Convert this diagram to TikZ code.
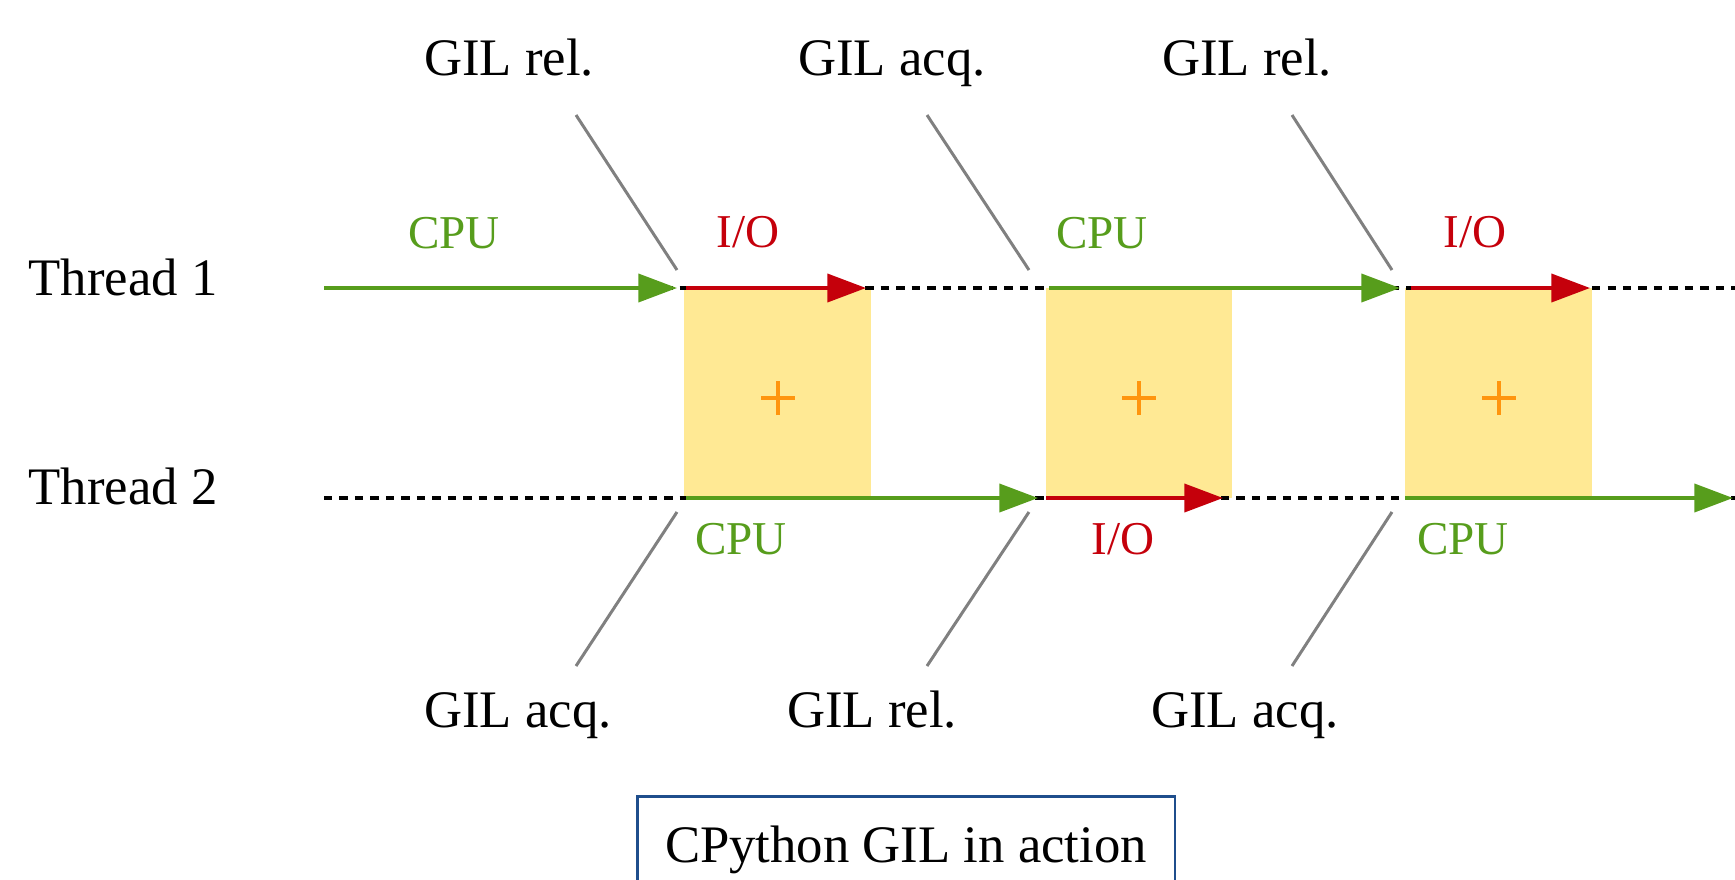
\documentclass[tikz,border=0pt]{standalone}
\usepackage{fontspec}
\setmainfont{Liberation Serif}
\usetikzlibrary{arrows.meta, positioning}
\definecolor{cpugreen}{RGB}{87,157,28}
\definecolor{iored}{RGB}{197,0,11}
\definecolor{gilyellow}{RGB}{255,233,148}
\definecolor{plusorange}{RGB}{255,149,14}
\definecolor{capblue}{RGB}{31,78,140}

\begin{document}
\begin{tikzpicture}[x=0.1mm, y=-0.1mm,
    timeline/.style={black, line width=1pt, dash pattern=on 2.4pt off 2pt},
    cpu/.style={-{Triangle[length=11pt, width=8pt]}, cpugreen, line width=1pt},
    io/.style={-{Triangle[length=11pt, width=8pt]}, iored, line width=1pt},
    lead/.style={gray, line width=0.85pt},
    gil/.style={anchor=base, font=\fontsize{15}{18}\selectfont},
    tag/.style={anchor=base, font=\fontsize{13.4}{16}\selectfont}]
    \useasboundingbox (0,0) rectangle (1735,879);
    \clip (0,0) rectangle (1735,879);

    % Time spent holding the GIL
    \fill[gilyellow] (684,288) rectangle (871,498);
    \fill[gilyellow] (1046,288) rectangle (1232,498);
    \fill[gilyellow] (1405,288) rectangle (1592,498);
    \coordinate (plus1) at (778,398);
    \coordinate (plus2) at (1139,398);
    \coordinate (plus3) at (1499,398);
    \foreach \p in {plus1, plus2, plus3}
      \draw[plusorange, line width=1pt] ([xshift=-1.7mm]\p) -- ([xshift=1.7mm]\p)
        ([yshift=-1.7mm]\p) -- ([yshift=1.7mm]\p);

    % Thread names
    \node (th1) [anchor=base west, font=\fontsize{15}{18}\selectfont, inner sep=0pt] at (28,295) {Thread 1};
    \node (th2) [anchor=base west, font=\fontsize{15}{18}\selectfont, inner sep=0pt] at (28,504) {Thread 2};

    % Timeline points
    \coordinate (s1) at (324,288);
    \coordinate (e1) at (1735,288);
    \coordinate (a1) at (677,288);
    \coordinate (b1) at (686,288);
    \coordinate (c1) at (866,288);
    \coordinate (d1) at (1049,288);
    \coordinate (f1) at (1400,288);
    \coordinate (g1) at (1411,288);
    \coordinate (h1) at (1590,288);

    \coordinate (s2) at (324,498);
    \coordinate (e2) at (1735,498);
    \coordinate (b2) at (686,498);
    \coordinate (c2) at (1038,498);
    \coordinate (d2) at (1046,498);
    \coordinate (f2) at (1223,498);
    \coordinate (g2) at (1405,498);
    \coordinate (h2) at (1733,498);

    \draw[timeline] (s1) -- (e1);
    \draw[timeline] (s2) -- (e2);

    % Thread 1
    \draw[cpu] (s1) -- (a1);
    \draw[io] (b1) -- (c1);
    \draw[cpu] (d1) -- (f1);
    \draw[io] (g1) -- (h1);

    % Thread 2
    \draw[cpu] (b2) -- (c2);
    \draw[io] (d2) -- (f2);
    \draw[cpu] (g2) -- (h2);

    % Activity labels
    \node (cpu1) [tag, cpugreen] at (454,248) {CPU};
    \node (io1) [tag, iored] at (748,247) {I/O};
    \node (cpu2) [tag, cpugreen] at (1102,248) {CPU};
    \node (io2) [tag, iored] at (1475,247) {I/O};
    \node (cpu3) [tag, cpugreen] at (741,554) {CPU};
    \node (io3) [tag, iored] at (1123,554) {I/O};
    \node (cpu4) [tag, cpugreen] at (1463,554) {CPU};

    % GIL events
    \node (rel1) [gil] at (509,75) {GIL rel.};
    \node (acq1) [gil] at (892,75) {GIL acq.};
    \node (rel2) [gil] at (1247,75) {GIL rel.};
    \node (acq2) [gil] at (518,727) {GIL acq.};
    \node (rel3) [gil] at (872,727) {GIL rel.};
    \node (acq3) [gil] at (1245,727) {GIL acq.};

    \coordinate (r1top) at (576,115);
    \coordinate (r1bot) at (677,270);
    \coordinate (a1top) at (927,115);
    \coordinate (a1bot) at (1029,270);
    \coordinate (r2top) at (1292,115);
    \coordinate (r2bot) at (1392,270);
    \coordinate (a2top) at (677,512);
    \coordinate (a2bot) at (576,666);
    \coordinate (r3top) at (1029,512);
    \coordinate (r3bot) at (927,666);
    \coordinate (a3top) at (1392,512);
    \coordinate (a3bot) at (1292,666);

    \draw[lead] (r1top) -- (r1bot);
    \draw[lead] (a1top) -- (a1bot);
    \draw[lead] (r2top) -- (r2bot);
    \draw[lead] (a2top) -- (a2bot);
    \draw[lead] (r3top) -- (r3bot);
    \draw[lead] (a3top) -- (a3bot);

    % Caption
    \node (caption) [draw=capblue, line width=0.85pt, minimum width=53.8mm, minimum height=10.8mm,
      font=\fontsize{15}{18}\selectfont] at (906,850) {CPython GIL in action};
\end{tikzpicture}
\end{document}
